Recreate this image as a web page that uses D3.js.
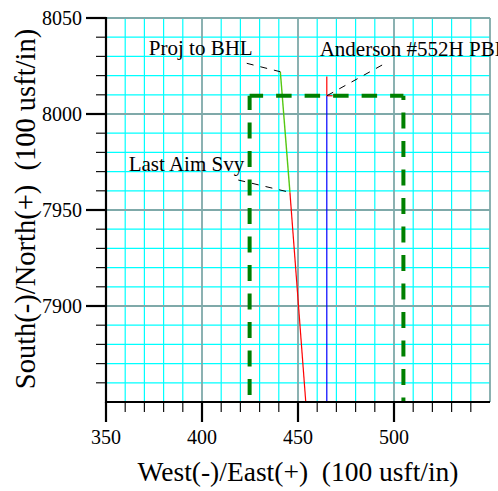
<!DOCTYPE html>
<html>
<head>
<meta charset="utf-8">
<script src="https://cdn.jsdelivr.net/npm/d3@7"></script>
<style>
html,body{margin:0;padding:0;background:#fff;}
svg{display:block;}
text{font-family:"Liberation Serif","Times New Roman",serif;fill:#000;}
</style>
</head>
<body>
<div id="chart"></div>
<script>
// ---- data (units: 100 usft/in grid, East / North) ----
const xDomain = [350, 550];
const yDomain = [7850, 8050];
const xTickValues = [350, 400, 450, 500];
const yTickValues = [7900, 7950, 8000, 8050];
const xTitle = "West(-)/East(+)  (100 usft/in)";
const yTitle = "South(-)/North(+)  (100 usft/in)";

// hard line (dashed green), three edges
const hardLeft  = [[424.8, 7840], [424.8, 8009.5]];
const hardTop   = [[424.8, 8009.5], [504.9, 8009.5]];
const hardRight = [[504.9, 7840], [504.9, 8009.5]];

// actual wellbore surveys (red) and projection to bit (green)
const surveyPath = [[454.8, 7840], [445.8, 7959.2]];
const projPath = [[445.8, 7959.2], [440.8, 8022]];
// plan (blue) and plan beyond target (red)
const planPath = [[465, 7840], [465, 8009.5]];
const planTail = [[465, 8009.5], [465, 8019.5]];
const targetTick = [[465, 8009.5], [468, 8009.5]];

// callouts: label, text anchor point, leader start, leader end
const labels = ["Proj to BHL", "Anderson #552H PBHL", "Last Aim Svy"];
const labelPos = [[372.3, 8030.5], [461.3, 8030.0], [361.8, 7970.2]];
const leaderFrom = [[423.3, 8026.4], [493.8, 8025.5], [418.9, 7965.6]];
const leaderTo = [[440.8, 8022], [465, 8009.5], [445.8, 7959.2]];

// ---- layout ----
const W = 498, H = 491;
const mL = 106, mR = 490, mT = 18, mB = 402;

const svg = d3.select("#chart").append("svg").attr("width", W).attr("height", H);

const x = d3.scaleLinear().domain(xDomain).range([mL, mR]);
const y = d3.scaleLinear().domain(yDomain).range([mB, mT]);

svg.append("defs").append("clipPath").attr("id", "clip")
  .append("rect").attr("x", mL).attr("y", mT).attr("width", mR - mL).attr("height", mB - mT);

// grid
const g = svg.append("g");
const minorX = d3.range(xDomain[0], xDomain[1] + 0.1, 10);
const minorY = d3.range(yDomain[0], yDomain[1] + 0.1, 10);
g.selectAll(".gx").data(minorX.filter(v => v % 50 !== 0)).enter().append("line")
  .attr("x1", d => x(d)).attr("x2", d => x(d)).attr("y1", mT).attr("y2", mB)
  .attr("stroke", "#00ffff").attr("stroke-width", 1.2);
g.selectAll(".gy").data(minorY.filter(v => v % 50 !== 0)).enter().append("line")
  .attr("y1", d => y(d)).attr("y2", d => y(d)).attr("x1", mL).attr("x2", mR)
  .attr("stroke", "#00ffff").attr("stroke-width", 1.2);
g.selectAll(".gX").data(minorX.filter(v => v % 50 === 0)).enter().append("line")
  .attr("x1", d => x(d)).attr("x2", d => x(d)).attr("y1", mT).attr("y2", mB)
  .attr("stroke", "#7fa9a9").attr("stroke-width", 1.8);
g.selectAll(".gY").data(minorY.filter(v => v % 50 === 0)).enter().append("line")
  .attr("y1", d => y(d)).attr("y2", d => y(d)).attr("x1", mL).attr("x2", mR)
  .attr("stroke", "#7fa9a9").attr("stroke-width", 1.8);

// data marks
const line = d3.line().x(d => x(d[0])).y(d => y(d[1]));
const plot = svg.append("g").attr("clip-path", "url(#clip)");

plot.append("path").datum(planPath).attr("d", line).attr("fill", "none").attr("stroke", "#0000ff").attr("stroke-width", 1.2);
plot.append("path").datum(planTail).attr("d", line).attr("fill", "none").attr("stroke", "#ff0000").attr("stroke-width", 1.2);
plot.append("path").datum(targetTick).attr("d", line).attr("fill", "none").attr("stroke", "#ff0000").attr("stroke-width", 1.2);
plot.append("path").datum(surveyPath).attr("d", line).attr("fill", "none").attr("stroke", "#ff0000").attr("stroke-width", 1.2);
plot.append("path").datum(projPath).attr("d", line).attr("fill", "none").attr("stroke", "#55c811").attr("stroke-width", 1.4);

const dash = "16,12.5";
plot.append("path").datum(hardLeft).attr("d", line).attr("fill", "none").attr("stroke", "#008000")
  .attr("stroke-width", 4).attr("stroke-dasharray", dash).attr("stroke-dashoffset", 2.3);
plot.append("path").datum(hardTop).attr("d", line).attr("fill", "none").attr("stroke", "#008000")
  .attr("stroke-width", 4).attr("stroke-dasharray", "15.5,13").attr("stroke-dashoffset", 2);
plot.append("path").datum(hardRight).attr("d", line).attr("fill", "none").attr("stroke", "#008000")
  .attr("stroke-width", 4).attr("stroke-dasharray", dash).attr("stroke-dashoffset", 20.8);

// leaders
labels.forEach((t, i) => {
  plot.append("path").datum([leaderFrom[i], leaderTo[i]]).attr("d", line)
    .attr("fill", "none").attr("stroke", "#000").attr("stroke-width", 1).attr("stroke-dasharray", "7,7");
});
svg.selectAll(".lbl").data(labels).enter().append("text")
  .attr("x", (d, i) => x(labelPos[i][0])).attr("y", (d, i) => y(labelPos[i][1]))
  .attr("font-size", 21).text(d => d);

// axes
const xAxisG = svg.append("g");
xAxisG.selectAll(".tmin").data(d3.range(360, 550, 10).filter(v => v % 50 !== 0)).enter().append("line")
  .attr("x1", d => x(d)).attr("x2", d => x(d)).attr("y1", mB).attr("y2", mB + 10)
  .attr("stroke", "#111").attr("stroke-width", 1.2);
xAxisG.selectAll(".tmaj").data(xTickValues).enter().append("line")
  .attr("x1", d => x(d)).attr("x2", d => x(d)).attr("y1", mB).attr("y2", mB + 20)
  .attr("stroke", "#000").attr("stroke-width", 2.2);
xAxisG.selectAll(".tl").data(xTickValues).enter().append("text")
  .attr("x", d => x(d)).attr("y", 444).attr("text-anchor", "middle").attr("font-size", 20).text(d => d);
xAxisG.append("line").attr("x1", mL - 1).attr("x2", mR).attr("y1", mB).attr("y2", mB)
  .attr("stroke", "#000").attr("stroke-width", 2.2);

const yAxisG = svg.append("g");
yAxisG.selectAll(".tmin").data(d3.range(7860, 8050, 10).filter(v => v % 50 !== 0)).enter().append("line")
  .attr("y1", d => y(d)).attr("y2", d => y(d)).attr("x1", mL - 10).attr("x2", mL)
  .attr("stroke", "#111").attr("stroke-width", 1.2);
yAxisG.selectAll(".tmaj").data(yTickValues).enter().append("line")
  .attr("y1", d => y(d)).attr("y2", d => y(d)).attr("x1", mL - 20).attr("x2", mL)
  .attr("stroke", "#000").attr("stroke-width", 2.2);
yAxisG.selectAll(".tl").data(yTickValues).enter().append("text")
  .attr("x", 82).attr("y", d => y(d)).attr("dy", "0.35em").attr("text-anchor", "end").attr("font-size", 20).text(d => d);
yAxisG.append("line").attr("x1", mL).attr("x2", mL).attr("y1", mT - 1).attr("y2", mB + 1)
  .attr("stroke", "#000").attr("stroke-width", 2.2);

// titles
svg.append("text").attr("x", 298).attr("y", 481).attr("text-anchor", "middle")
  .attr("font-size", 27.5).style("white-space", "pre").text(xTitle);
svg.append("text").attr("transform", "translate(35,209) rotate(-90)").attr("text-anchor", "middle")
  .attr("font-size", 28.5).style("white-space", "pre").text(yTitle);
</script>
</body>
</html>
